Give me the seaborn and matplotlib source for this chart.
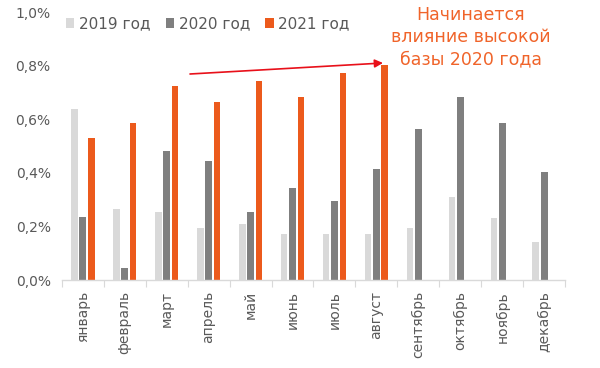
import numpy as np
import pandas as pd
import matplotlib
matplotlib.use("Agg")
import matplotlib.pyplot as plt
import seaborn as sns
from matplotlib.ticker import FixedLocator, FuncFormatter

# Monthly values, %
months = ["январь", "февраль", "март", "апрель", "май", "июнь",
          "июль", "август", "сентябрь", "октябрь", "ноябрь", "декабрь"]
years = ["2019 год", "2020 год", "2021 год"]
v2019 = [0.64, 0.265, 0.255, 0.195, 0.21, 0.172, 0.172, 0.172, 0.195, 0.31, 0.233, 0.141]
v2020 = [0.235, 0.045, 0.483, 0.445, 0.255, 0.343, 0.295, 0.413, 0.562, 0.685, 0.585, 0.405]
v2021 = [0.53, 0.585, 0.725, 0.663, 0.742, 0.685, 0.772, 0.803,
         np.nan, np.nan, np.nan, np.nan]
colors = ["#d9d9d9", "#7f7f7f", "#ec5a1c"]

df = pd.DataFrame({
    "month": months * 3,
    "year": np.repeat(years, len(months)),
    "value": v2019 + v2020 + v2021,
})

sns.set_style("white")
plt.rcParams["font.family"] = ["DejaVu Sans"]

fig = plt.figure(figsize=(6, 3.68), dpi=100)
ax = fig.add_axes([0.103, 0.239, 0.839, 0.728])

sns.barplot(data=df, x="month", y="value", hue="year", hue_order=years,
            order=months, palette=colors, width=0.6, gap=0.2,
            saturation=1, linewidth=0, ax=ax, legend=True)

ax.set_ylim(0, 1.0)
ax.set_xlim(-0.5, len(months) - 0.5)
ax.set_xlabel("")
ax.set_ylabel("")
ax.yaxis.set_major_locator(FixedLocator([0, 0.2, 0.4, 0.6, 0.8, 1.0]))
ax.yaxis.set_major_formatter(FuncFormatter(lambda v, p: f"{v:.1f}%".replace(".", ",")))
ax.tick_params(axis="y", length=0, labelsize=10, labelcolor="#595959", pad=8)
ax.tick_params(axis="x", which="major", length=0, labelsize=10,
               labelcolor="#595959", labelrotation=90, pad=8)
ax.xaxis.set_minor_locator(FixedLocator(np.arange(-0.5, len(months), 1.0)))
ax.tick_params(axis="x", which="minor", bottom=True, length=5, width=0.8,
               color="#d9d9d9")

for side in ["top", "right", "left"]:
    ax.spines[side].set_visible(False)
ax.spines["bottom"].set_color("#d9d9d9")
ax.spines["bottom"].set_linewidth(1.0)

handles, labels = ax.get_legend_handles_labels()
ax.get_legend().remove()
fig.legend(handles, labels, loc="center left", bbox_to_anchor=(66 / 600, 1 - 24 / 368),
           ncol=3, frameon=False, fontsize=11, labelcolor="#595959",
           handlelength=0.55, handleheight=0.55, handletextpad=0.3,
           columnspacing=1.0, borderaxespad=0, borderpad=0)

orange = "#f0642a"
fig.text(471 / 600, 1 - 15 / 368, "Начинается", ha="center", va="center",
         fontsize=12.5, color=orange)
fig.text(471 / 600, 1 - 37 / 368, "влияние высокой", ha="center", va="center",
         fontsize=12.5, color=orange)
fig.text(471 / 600, 1 - 59 / 368, "базы 2020 года", ha="center", va="center",
         fontsize=12.5, color=orange)

ax.annotate("", xy=(383 / 600, 1 - 63 / 368), xycoords="figure fraction",
            xytext=(190 / 600, 1 - 74 / 368), textcoords="figure fraction",
            arrowprops=dict(arrowstyle="-|>", color="#e8101a", lw=1.2,
                            mutation_scale=12, shrinkA=0, shrinkB=0))

fig.savefig("out.png", dpi=100)
